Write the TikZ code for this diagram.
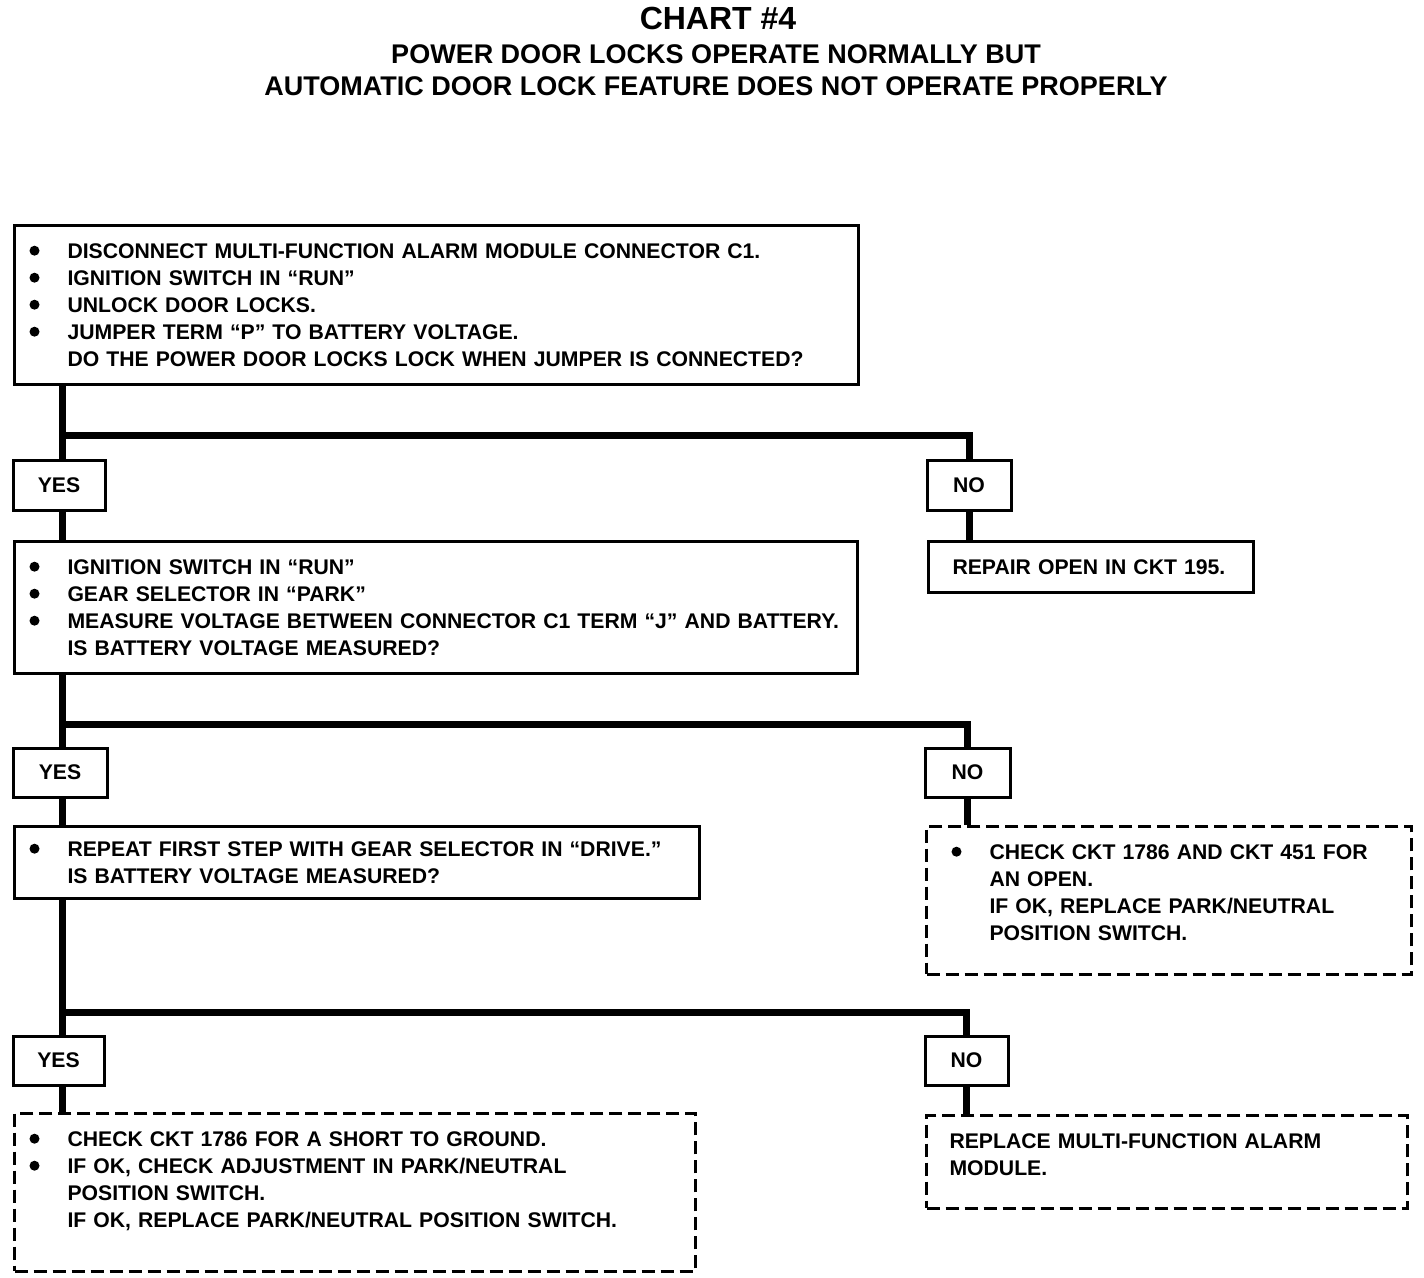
\documentclass[tikz,border=0pt]{standalone}
\usepackage{fontspec}
\setmainfont{Liberation Sans}
\usepackage{tikz}
\usetikzlibrary{positioning}

\newcommand{\bodyfont}{\fontsize{10.6}{13.5}\selectfont\bfseries}
\newcommand{\bulline}[1]{\makebox[19pt][l]{\tikz[x=1pt,y=1pt,baseline=0pt]\fill (2.5,3.8) circle (2.5pt);}\mbox{#1}}
\newcommand{\indline}[1]{\hspace*{19pt}\mbox{#1}}
\newcommand{\padbottom}[1]{\rule[-#1]{0pt}{#1}}

\begin{document}
\begin{tikzpicture}[
    x=0.5pt, y=-0.5pt,
    stepbox/.style={
    draw=black,
    line width=1.5pt,
    rectangle,
    anchor=north west,
    align=left,
    inner xsep=7.5pt,
    inner ysep=9pt,
    font=\bodyfont},
    dashbox/.style={stepbox, dash pattern=on 6.5pt off 3pt},
    ansbox/.style={
    draw=black,
    line width=1.5pt,
    minimum height=24.5pt,
    inner sep=0pt,
    font=\bodyfont},
    trunk/.style={line width=3.5pt}
    ]

    \useasboundingbox (0,0) rectangle (1424,1278);

    % titles
    \node[font=\fontsize{16}{19}\selectfont\bfseries] (title) at (718,18) {CHART \#4};
    \node[font=\fontsize{13.5}{16}\selectfont\bfseries] (sub1) at (716,54) {POWER DOOR LOCKS OPERATE NORMALLY BUT};
    \node[font=\fontsize{13.5}{16}\selectfont\bfseries] (sub2) at (716,86) {AUTOMATIC DOOR LOCK FEATURE DOES NOT OPERATE PROPERLY};

    % steps
    \node[stepbox, text width=407pt] (box1) at (13,224) {%
        \bulline{DISCONNECT MULTI-FUNCTION ALARM MODULE CONNECTOR C1.}\\
        \bulline{IGNITION SWITCH IN “RUN”}\\
        \bulline{UNLOCK DOOR LOCKS.}\\
        \bulline{JUMPER TERM “P” TO BATTERY VOLTAGE.}\\
        \indline{DO THE POWER DOOR LOCKS LOCK WHEN JUMPER IS CONNECTED?}};
    \node[stepbox, text width=406.5pt] (box2) at (13,540) {%
        \bulline{IGNITION SWITCH IN “RUN”}\\
        \bulline{GEAR SELECTOR IN “PARK”}\\
        \bulline{MEASURE VOLTAGE BETWEEN CONNECTOR C1 TERM “J” AND BATTERY.}\\
        \indline{IS BATTERY VOLTAGE MEASURED?}};
    \node[stepbox, inner ysep=7.5pt, text width=327.5pt] (box3) at (13,825) {%
        \bulline{REPEAT FIRST STEP WITH GEAR SELECTOR IN “DRIVE.”}\\
        \indline{IS BATTERY VOLTAGE MEASURED?}};

    % results
    \node[stepbox, inner xsep=12pt, text width=138.5pt] (rep1) at (927,540) {\mbox{REPAIR OPEN IN CKT 195.}};
    \node[dashbox, inner xsep=12.5pt, text width=217.5pt] (rep2) at (925,825) {%
        \bulline{CHECK CKT 1786 AND CKT 451 FOR}\\
        \indline{AN OPEN.}\\
        \indline{IF OK, REPLACE PARK/NEUTRAL}\\
        \indline{POSITION SWITCH.}\padbottom{8pt}};
    \node[dashbox, text width=325.5pt] (rep3) at (13,1112) {%
        \bulline{CHECK CKT 1786 FOR A SHORT TO GROUND.}\\
        \bulline{IF OK, CHECK ADJUSTMENT IN PARK/NEUTRAL}\\
        \indline{POSITION SWITCH.}\\
        \indline{IF OK, REPLACE PARK/NEUTRAL POSITION SWITCH.}\padbottom{13pt}};
    \node[dashbox, inner xsep=11.5pt, text width=217.5pt] (rep4) at (925,1114) {%
        \mbox{REPLACE MULTI-FUNCTION ALARM}\\
        \mbox{MODULE.}\padbottom{7.5pt}};

    % answers
    \node[ansbox, minimum width=46pt] (yes1) at (59,485.5) {YES};
    \node[ansbox, minimum width=42pt] (no1) at (969,485.5) {NO};
    \node[ansbox, minimum width=47pt] (yes2) at (60,772.5) {YES};
    \node[ansbox, minimum width=42.5pt] (no2) at (967.5,772.5) {NO};
    \node[ansbox, minimum width=45.5pt] (yes3) at (58.5,1060.5) {YES};
    \node[ansbox, minimum width=41.5pt] (no3) at (966.5,1060.5) {NO};

    \coordinate (j1) at (62,436);
    \coordinate (j2) at (62,724);
    \coordinate (j3) at (62,1012);

    \draw[trunk] (box1.south -| j1) -- (yes1.north -| j1);
    \draw[trunk] (j1) -| (no1.north);
    \draw[trunk] (yes1.south -| j1) -- (box2.north -| j1);
    \draw[trunk] (no1.south) -- (rep1.north -| no1.south);

    \draw[trunk] (box2.south -| j2) -- (yes2.north -| j2);
    \draw[trunk] (j2) -| (no2.north);
    \draw[trunk] (yes2.south -| j2) -- (box3.north -| j2);
    \draw[trunk] (no2.south) -- (rep2.north -| no2.south);

    \draw[trunk] (box3.south -| j3) -- (yes3.north -| j3);
    \draw[trunk] (j3) -| (no3.north);
    \draw[trunk] (yes3.south -| j3) -- (rep3.north -| j3);
    \draw[trunk] (no3.south) -- (rep4.north -| no3.south);
\end{tikzpicture}
\end{document}
